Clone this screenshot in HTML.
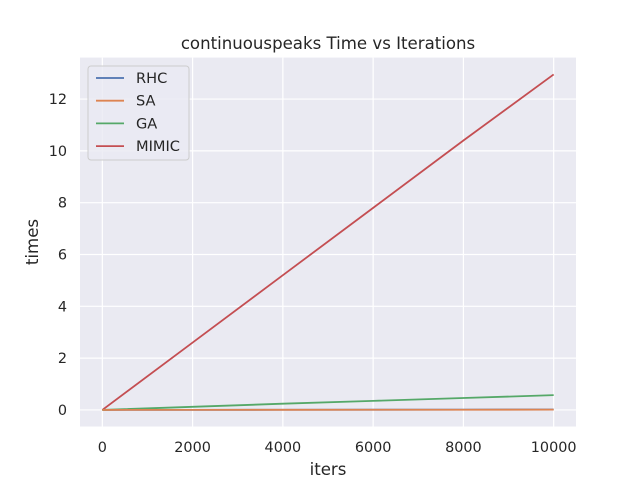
<!DOCTYPE html>
<html><head><meta charset="utf-8"><style>
body{margin:0;background:#fff;}
svg text{font-family:"DejaVu Sans","Liberation Sans",sans-serif;fill:#262626;}
</style></head><body>
<svg id="chart" width="640" height="480" xmlns="http://www.w3.org/2000/svg"></svg>
<script>
const iters=[0,2000,4000,6000,8000,10000];
const rhc=[0,0.003,0.006,0.009,0.012,0.015];
const sa=[0,0.002,0.004,0.006,0.008,0.01];
const ga=[0,0.12,0.24,0.35,0.46,0.57];
const mimic=[0,2.6,5.2,7.8,10.4,12.95];
const xTicks=[0,2000,4000,6000,8000,10000];
const yTicks=[0,2,4,6,8,10,12];
const seriesNames=["RHC","SA","GA","MIMIC"];
const colors=["#4c72b0","#dd8452","#55a868","#c44e52"];

const L=80,R=576,T=57.6,B=426.5;
const x0=-495,x1=10495,y0=-0.64,y1=13.6;
const X=v=>L+(v-x0)/(x1-x0)*(R-L);
const Y=v=>B-(v-y0)/(y1-y0)*(B-T);
const svg=document.getElementById('chart');
const NS="http://www.w3.org/2000/svg";
function mk(tag,attrs,parent){const e=document.createElementNS(NS,tag);for(const k in attrs)e.setAttribute(k,attrs[k]);(parent||svg).appendChild(e);return e;}

const bg=mk('rect',{x:L,y:T,width:R-L,height:B-T,fill:'#eaeaf2'});


xTicks.forEach(t=>{
  const g=mk('line',{x1:X(t),x2:X(t),y1:T,y2:B,stroke:'#fff','stroke-width':1.2});
  
  
  const tx=mk('text',{x:X(t),y:452,'text-anchor':'middle','font-size':14.4});
  tx.textContent=t;
  
  
});
yTicks.forEach(t=>{
  const g=mk('line',{x1:L,x2:R,y1:Y(t),y2:Y(t),stroke:'#fff','stroke-width':1.2});
  
  
  const tx=mk('text',{x:L-13,y:Y(t)+5,'text-anchor':'end','font-size':14.4});
  tx.textContent=t;
  
  
});
const all=[rhc,sa,ga,mimic];
const order=[0,3,2,1];
order.forEach(i=>{
  const d=iters.map((v,j)=>(j?'L':'M')+X(v)+','+Y(all[i][j])).join(' ');
  const p=mk('path',{d:d,fill:'none',stroke:colors[i],'stroke-width':1.8});
  
  
});
const title=mk('text',{x:328,y:49,'text-anchor':'middle','font-size':16.6});
title.textContent='continuouspeaks Time vs Iterations';


const xl=mk('text',{x:328,y:475,'text-anchor':'middle','font-size':16.6});
xl.textContent='iters';


const yl=mk('text',{x:0,y:0,'text-anchor':'middle','font-size':16.6,transform:'translate(38,242) rotate(-90)'});
yl.textContent='times';


const lg=mk('g',{});


mk('rect',{x:88,y:66,width:101,height:94,rx:3,fill:'#eaeaf2','fill-opacity':0.8,stroke:'#ccc'},lg);
seriesNames.forEach((n,i)=>{
  const yy=78+i*22.7;
  const ln=mk('line',{x1:96,x2:124,y1:yy,y2:yy,stroke:colors[i],'stroke-width':1.8},lg);
  
  
  const t=mk('text',{x:136,y:yy+5,'font-size':14.6},lg);
  t.textContent=n;
  
  
});
</script>
</body></html>
